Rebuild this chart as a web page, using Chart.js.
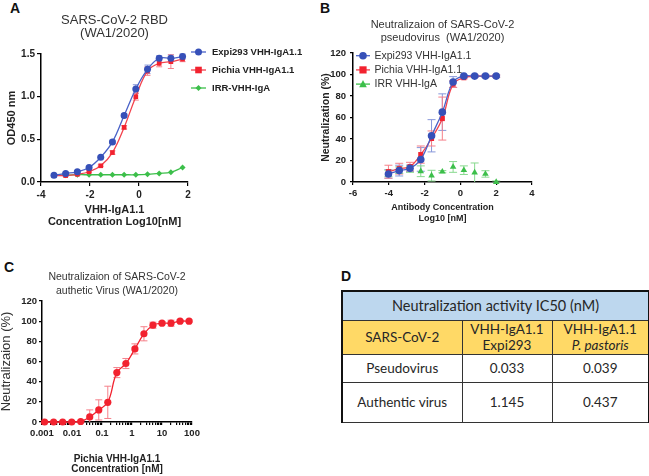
<!DOCTYPE html>
<html>
<head>
<meta charset="utf-8">
<script src="https://cdn.jsdelivr.net/npm/chart.js@4.4.0/dist/chart.umd.min.js"></script>
<style>
  body { margin: 0; background: #fff; width: 649px; height: 476px; overflow: hidden; position: relative; }
  canvas { position: absolute; }
  .tag { position: absolute; font: bold 14px Arial, "Liberation Sans", sans-serif; color: #111; }
  #tbl { position: absolute; left: 341px; top: 290px; width: 307px; border-collapse: collapse; table-layout: fixed;
         font-family: Lato, "Open Sans", sans-serif; color: #262626; border: 2px solid #111; border-bottom: 1px solid #333; }
  #tbl td { border: 1px solid #333; text-align: center; padding: 0; font-size: 13.5px; line-height: 16px; }
  #tbl tr.hd td { background: #bdd7ee; font-size: 14.5px; }
  #tbl tr.yl td { background: #ffd966; }
</style>
</head>
<body>
<div class="tag" style="left:10px;top:0px">A</div>
<div class="tag" style="left:320px;top:0px">B</div>
<div class="tag" style="left:4px;top:259px">C</div>
<div class="tag" style="left:341px;top:268px">D</div>
<canvas id="chartA" width="320" height="240" style="left:0;top:0"></canvas>
<canvas id="chartB" width="329" height="240" style="left:320px;top:0"></canvas>
<canvas id="chartC" width="330" height="240" style="left:0;top:236px"></canvas>
<table id="tbl"></table>
<script>
// ---- panel A: RBD ELISA ----
var xA = [-3.470, -2.993, -2.516, -2.039, -1.562, -1.084, -0.607, -0.130, 0.347, 0.824, 1.301, 1.778];
var expiA = [0.08, 0.10, 0.12, 0.17, 0.29, 0.47, 0.78, 1.09, 1.32, 1.45, 1.45, 1.47];
var expiAErr = [0.01, 0.01, 0.01, 0.01, 0.01, 0.02, 0.02, 0.05, 0.05, 0.03, 0.04, 0.03];
var pichiaA = [0.075, 0.075, 0.09, 0.12, 0.19, 0.345, 0.64, 1.0, 1.30, 1.39, 1.41, 1.44];
var pichiaAErr = [0.01, 0.01, 0.01, 0.01, 0.01, 0.02, 0.02, 0.04, 0.05, 0.04, 0.08, 0.03];
var irrA = [0.08, 0.08, 0.085, 0.085, 0.085, 0.085, 0.085, 0.085, 0.09, 0.10, 0.115, 0.17];

// ---- panel B: pseudovirus ----
var xB = [-4.020, -3.418, -2.816, -2.214, -1.612, -1.010, -0.408, 0.194, 0.796, 1.398, 2.0];
var expiB = [7.5, 10.6, 12.7, 21, 43, 65, 93, 98.5, 98.5, 98.5, 98.5];
var expiBErr = [4, 5, 3, 11, 15, 17, 5, 1, 1, 1, 1];
var pichiaB = [9.6, 12.4, 14.3, 25.5, 40.5, 59, 91, 97, 98.5, 98.5, 98.5];
var pichiaBErr = [6, 5, 4, 8, 7, 20, 3, 1, 1, 1, 1];
var irrB = [8, 11, 12, 10, 5.9, 9.6, 14, 11, 8.7, 7.5, 0];
var irrBErr = [3, 3, 3, 5, 5, 1, 5, 4, 9, 3, 1];

// ---- panel C: authentic virus ----
var xC = [0.00122, 0.00244, 0.00488, 0.00977, 0.0195, 0.039, 0.078, 0.156, 0.3125, 0.625, 1.25, 2.5, 5, 10, 20, 40, 80];
var pichiaC = [0, 0, 0, 0, 0.5, 5, 12, 19.5, 49, 58, 72.5, 87.5, 96, 98, 98, 100, 100];
var pichiaCErr = [0, 0, 0, 0, 0.5, 7, 10, 16, 5, 5, 5, 7, 3, 1.5, 3, 1, 1];
var cMajorTicks = [0.001, 0.01, 0.1, 1, 10, 100];

// ---- panel D: IC50 table ----
var tableTitle = 'Neutralization activity IC50 (nM)';
var tableCols = ['SARS-CoV-2', 'VHH-IgA1.1<br>Expi293', 'VHH-IgA1.1<br><i>P. pastoris</i>'];
var tableRows = ['Pseudovirus', 'Authentic virus'];
var ic50Expi = ['0.033', '1.145'];
var ic50Pichia = ['0.039', '0.437'];

var FONT = 'Arial, "Liberation Sans", sans-serif';
Chart.defaults.font.family = FONT;
Chart.defaults.color = '#222';

var BLUE = '#3650b8', BLUE_L = '#8797da';
var RED = '#f2222f', RED_L = '#f5808a';
var GREEN = '#3cbf4a', GREEN_L = '#88d98f';

function pts(xs, ys) {
  return xs.map(function (x, i) { return {x: x, y: ys[i]}; });
}

function drawMarker(ctx, style, x, y, r, color) {
  ctx.save();
  ctx.fillStyle = color;
  ctx.beginPath();
  if (style === 'rect') {
    ctx.rect(x - r, y - r, 2 * r, 2 * r);
  } else if (style === 'rectRot') {
    ctx.moveTo(x, y - r); ctx.lineTo(x + r, y); ctx.lineTo(x, y + r); ctx.lineTo(x - r, y); ctx.closePath();
  } else if (style === 'triangle') {
    ctx.moveTo(x, y - r * 1.1); ctx.lineTo(x + r, y + r * 0.8); ctx.lineTo(x - r, y + r * 0.8); ctx.closePath();
  } else {
    ctx.arc(x, y, r, 0, Math.PI * 2);
  }
  ctx.fill();
  ctx.restore();
}

// vertical SD bars
var errorBars = {
  id: 'errorBars',
  beforeDatasetsDraw: function (chart) {
    var ctx = chart.ctx, sx = chart.scales.x, sy = chart.scales.y, area = chart.chartArea;
    chart.data.datasets.forEach(function (ds) {
      if (!ds.errors) return;
      ctx.save();
      ctx.strokeStyle = ds.errorColor;
      ctx.lineWidth = 1;
      ds.data.forEach(function (p, j) {
        var e = ds.errors[j];
        if (!e) return;
        var px = sx.getPixelForValue(p.x);
        var top = sy.getPixelForValue(p.y + e);
        var bot = sy.getPixelForValue(p.y - e);
        var cap = ds.capWidth;
        ctx.beginPath();
        ctx.moveTo(px, top); ctx.lineTo(px, Math.min(bot, area.bottom));
        ctx.moveTo(px - cap, top); ctx.lineTo(px + cap, top);
        if (bot <= area.bottom) { ctx.moveTo(px - cap, bot); ctx.lineTo(px + cap, bot); }
        ctx.stroke();
      });
      ctx.restore();
    });
  }
};

// chart heading, centred over the plot area
var panelTitle = {
  id: 'panelTitle',
  afterDraw: function (chart, args, o) {
    var ctx = chart.ctx;
    var cx = (chart.chartArea.left + chart.chartArea.right) / 2;
    ctx.save();
    ctx.font = o.font;
    ctx.fillStyle = o.color;
    ctx.textAlign = 'center';
    ctx.textBaseline = 'middle';
    for (var i = 0; i < o.lines.length; i++) ctx.fillText(o.lines[i], cx, o.y[i]);
    ctx.restore();
  }
};

// legend with line + marker, like Prism
var lineLegend = {
  id: 'lineLegend',
  afterDraw: function (chart, args, o) {
    if (!o.x) return;
    var ctx = chart.ctx;
    chart.data.datasets.forEach(function (ds, i) {
      var y = o.y + i * o.dy;
      ctx.save();
      ctx.strokeStyle = ds.borderColor;
      ctx.lineWidth = 1.3;
      ctx.beginPath(); ctx.moveTo(o.x, y); ctx.lineTo(o.x + o.len, y); ctx.stroke();
      drawMarker(ctx, ds.pointStyle, o.x + o.len / 2, y, ds.pointRadius, ds.pointBackgroundColor);
      ctx.font = o.font;
      ctx.fillStyle = o.color;
      ctx.textAlign = 'left';
      ctx.textBaseline = 'middle';
      ctx.fillText(ds.label, o.textX, y);
      ctx.restore();
    });
  }
};

function series(label, data, err, line, marker, errColor, style, r, cap) {
  return {
    label: label, data: data, errors: err, errorColor: errColor, capWidth: cap,
    borderColor: line, backgroundColor: marker, borderWidth: 1.3,
    pointStyle: style, pointRadius: r, pointHoverRadius: r,
    pointBackgroundColor: marker, pointBorderColor: marker, pointBorderWidth: 0,
    tension: 0.4, clip: false
  };
}

function axisStyle(tickSize, tickLen, pad) {
  return {
    border: {display: true, color: '#000', width: 1.5},
    grid: {display: true, drawOnChartArea: false, drawTicks: true, tickLength: tickLen, color: '#000', lineWidth: 1.2},
    ticks: {font: {size: tickSize, weight: 'bold'}, color: '#222', padding: pad, autoSkip: false, maxRotation: 0}
  };
}

function merge(a, b) {
  for (var k in b) a[k] = b[k];
  return a;
}

// ---------------- A ----------------
var chartA = new Chart(document.getElementById('chartA'), {
  type: 'line',
  data: {
    datasets: [
      series('Expi293 VHH-IgA1.1', pts(xA, expiA), expiAErr, '#4a62c8', BLUE, BLUE_L, 'circle', 3.5, 3),
      series('Pichia VHH-IgA1.1', pts(xA, pichiaA), pichiaAErr, '#f3424d', RED, RED_L, 'rect', 3.3, 3),
      series('IRR-VHH-IgA', pts(xA, irrA), null, GREEN, GREEN, GREEN_L, 'rectRot', 3, 3)
    ]
  },
  options: {
    responsive: false, animation: false, devicePixelRatio: 1,
    layout: {padding: {left: 0, top: 54, right: 132, bottom: 0}},
    scales: {
      x: merge(axisStyle(10, 4, 3), {
        type: 'linear', min: -4, max: 2,
        afterFit: function (s) { s.height = 58; },
        title: {display: true, text: ['VHH-IgA1.1', 'Concentration Log10[nM]'], color: '#222',
                font: {size: 11, weight: 'bold', lineHeight: 12 / 11}, padding: {top: 0, bottom: 12}}
      }),
      y: merge(axisStyle(10, 4, 2), {
        min: 0, max: 1.5,
        afterFit: function (s) { s.width = 41; },
        title: {display: true, text: 'OD450 nm', color: '#222',
                font: {size: 11, weight: 'bold'}, padding: {top: 5, bottom: 0}}
      })
    },
    plugins: {
      legend: {display: false}, tooltip: {enabled: false},
      panelTitle: {lines: ['SARS-CoV-2 RBD', '(WA1/2020)'], y: [20.7, 33.5], font: '13px ' + FONT, color: '#333'},
      lineLegend: {x: 191, len: 15, textX: 212, y: 52, dy: 18, font: 'bold 9.5px ' + FONT, color: '#222'}
    }
  },
  plugins: [errorBars, panelTitle, lineLegend]
});
chartA.options.scales.y.ticks.callback = function (v) { return v.toFixed(1); };
chartA.options.scales.y.ticks.stepSize = 0.5;
chartA.options.scales.x.ticks.stepSize = 2;
chartA.update();

// ---------------- B ----------------
var chartB = new Chart(document.getElementById('chartB'), {
  type: 'line',
  data: {
    datasets: [
      series('Expi293 VHH-IgA1.1', pts(xB, expiB), expiBErr, '#4a62c8', BLUE, BLUE_L, 'circle', 3.8, 4),
      series('Pichia VHH-IgA1.1', pts(xB, pichiaB), pichiaBErr, '#f3424d', RED, RED_L, 'rect', 3.6, 4),
      merge(series('IRR VHH-IgA', pts(xB, irrB), irrBErr, GREEN, GREEN, GREEN_L, 'triangle', 3.8, 4), {showLine: false})
    ]
  },
  options: {
    responsive: false, animation: false, devicePixelRatio: 1,
    layout: {padding: {left: 0, top: 53, right: 117, bottom: 0}},
    scales: {
      x: merge(axisStyle(9.5, 3, 3), {
        type: 'linear', min: -6, max: 4,
        afterFit: function (s) { s.height = 58; },
        title: {display: true, text: ['Antibody Concentration', 'Log10 [nM]'], color: '#222',
                font: {size: 9, weight: 'bold', lineHeight: 11 / 9}, padding: {top: 0, bottom: 16}}
      }),
      y: merge(axisStyle(9.5, 3, 4), {
        min: 0, max: 120,
        afterFit: function (s) { s.width = 33; },
        title: {display: true, text: 'Neutralization (%)', color: '#222',
                font: {size: 10.5, weight: 'bold'}, padding: {top: 0, bottom: 0}}
      })
    },
    plugins: {
      legend: {display: false}, tooltip: {enabled: false},
      panelTitle: {lines: ['Neutralizaion of SARS-CoV-2', 'pseudovirus  (WA1/2020)'], y: [25, 37.7], font: '11px ' + FONT, color: '#333'},
      lineLegend: {x: 36, len: 14, textX: 54.5, y: 55.7, dy: 14.2, font: '10.5px ' + FONT, color: '#333'}
    }
  },
  plugins: [errorBars, panelTitle, lineLegend]
});
chartB.options.scales.x.ticks.stepSize = 2;
chartB.options.scales.y.ticks.stepSize = 20;
chartB.update();

// ---------------- C ----------------
var chartC = new Chart(document.getElementById('chartC'), {
  type: 'line',
  data: {
    datasets: [
      series('Pichia VHH-IgA1.1', pts(xC, pichiaC), pichiaCErr, RED, RED, RED_L, 'circle', 3.6, 3.5)
    ]
  },
  options: {
    responsive: false, animation: false, devicePixelRatio: 1,
    layout: {padding: {left: 0, top: 65, right: 138, bottom: 0}},
    scales: {
      x: merge(axisStyle(9.5, 3, 3), {
        type: 'logarithmic', min: 0.001, max: 100,
        afterFit: function (s) { s.height = 54; },
        afterBuildTicks: function (s) {
          var t = [];
          cMajorTicks.forEach(function (m, i) {
            t.push({value: m, major: true});
            if (i < cMajorTicks.length - 1) {
              for (var k = 2; k <= 9; k++) t.push({value: m * k, major: false});
            }
          });
          s.ticks = t;
        },
        title: {display: true, text: ['Pichia VHH-IgA1.1', 'Concentration [nM]'], color: '#222',
                font: {size: 10, weight: 'bold', lineHeight: 1.05}, padding: {top: 0, bottom: 1.5}}
      }),
      y: merge(axisStyle(9.5, 3, 2), {
        min: 0, max: 120,
        afterFit: function (s) { s.width = 42; },
        title: {display: true, text: 'Neutralizaion (%)', color: '#333',
                font: {size: 13, lineHeight: 1.0}, padding: {top: 0, bottom: 0}}
      })
    },
    plugins: {
      legend: {display: false}, tooltip: {enabled: false},
      panelTitle: {lines: ['Neutralizaion of SARS-CoV-2', 'authetic Virus (WA1/2020)'], y: [41.3, 55], font: '10.5px ' + FONT, color: '#333'},
      lineLegend: {}
    }
  },
  plugins: [errorBars, panelTitle, lineLegend]
});
chartC.options.scales.x.ticks.callback = function (v) {
  return cMajorTicks.indexOf(v) >= 0 ? String(v) : '';
};
chartC.options.scales.y.ticks.stepSize = 20;
chartC.update();

// ---------------- D ----------------
var tbl = document.getElementById('tbl');
var html = '<colgroup><col style="width:120px"><col style="width:90px"><col style="width:97px"></colgroup>';
html += '<tr class="hd" style="height:29px"><td colspan="3">' + tableTitle + '</td></tr>';
html += '<tr class="yl" style="height:34px">' + tableCols.map(function (c) { return '<td>' + c + '</td>'; }).join('') + '</tr>';
var rowH = [28, 40];
tableRows.forEach(function (r, i) {
  html += '<tr style="height:' + rowH[i] + 'px"><td>' + r + '</td><td>' + ic50Expi[i] + '</td><td>' + ic50Pichia[i] + '</td></tr>';
});
tbl.innerHTML = html;
</script>
</body>
</html>
